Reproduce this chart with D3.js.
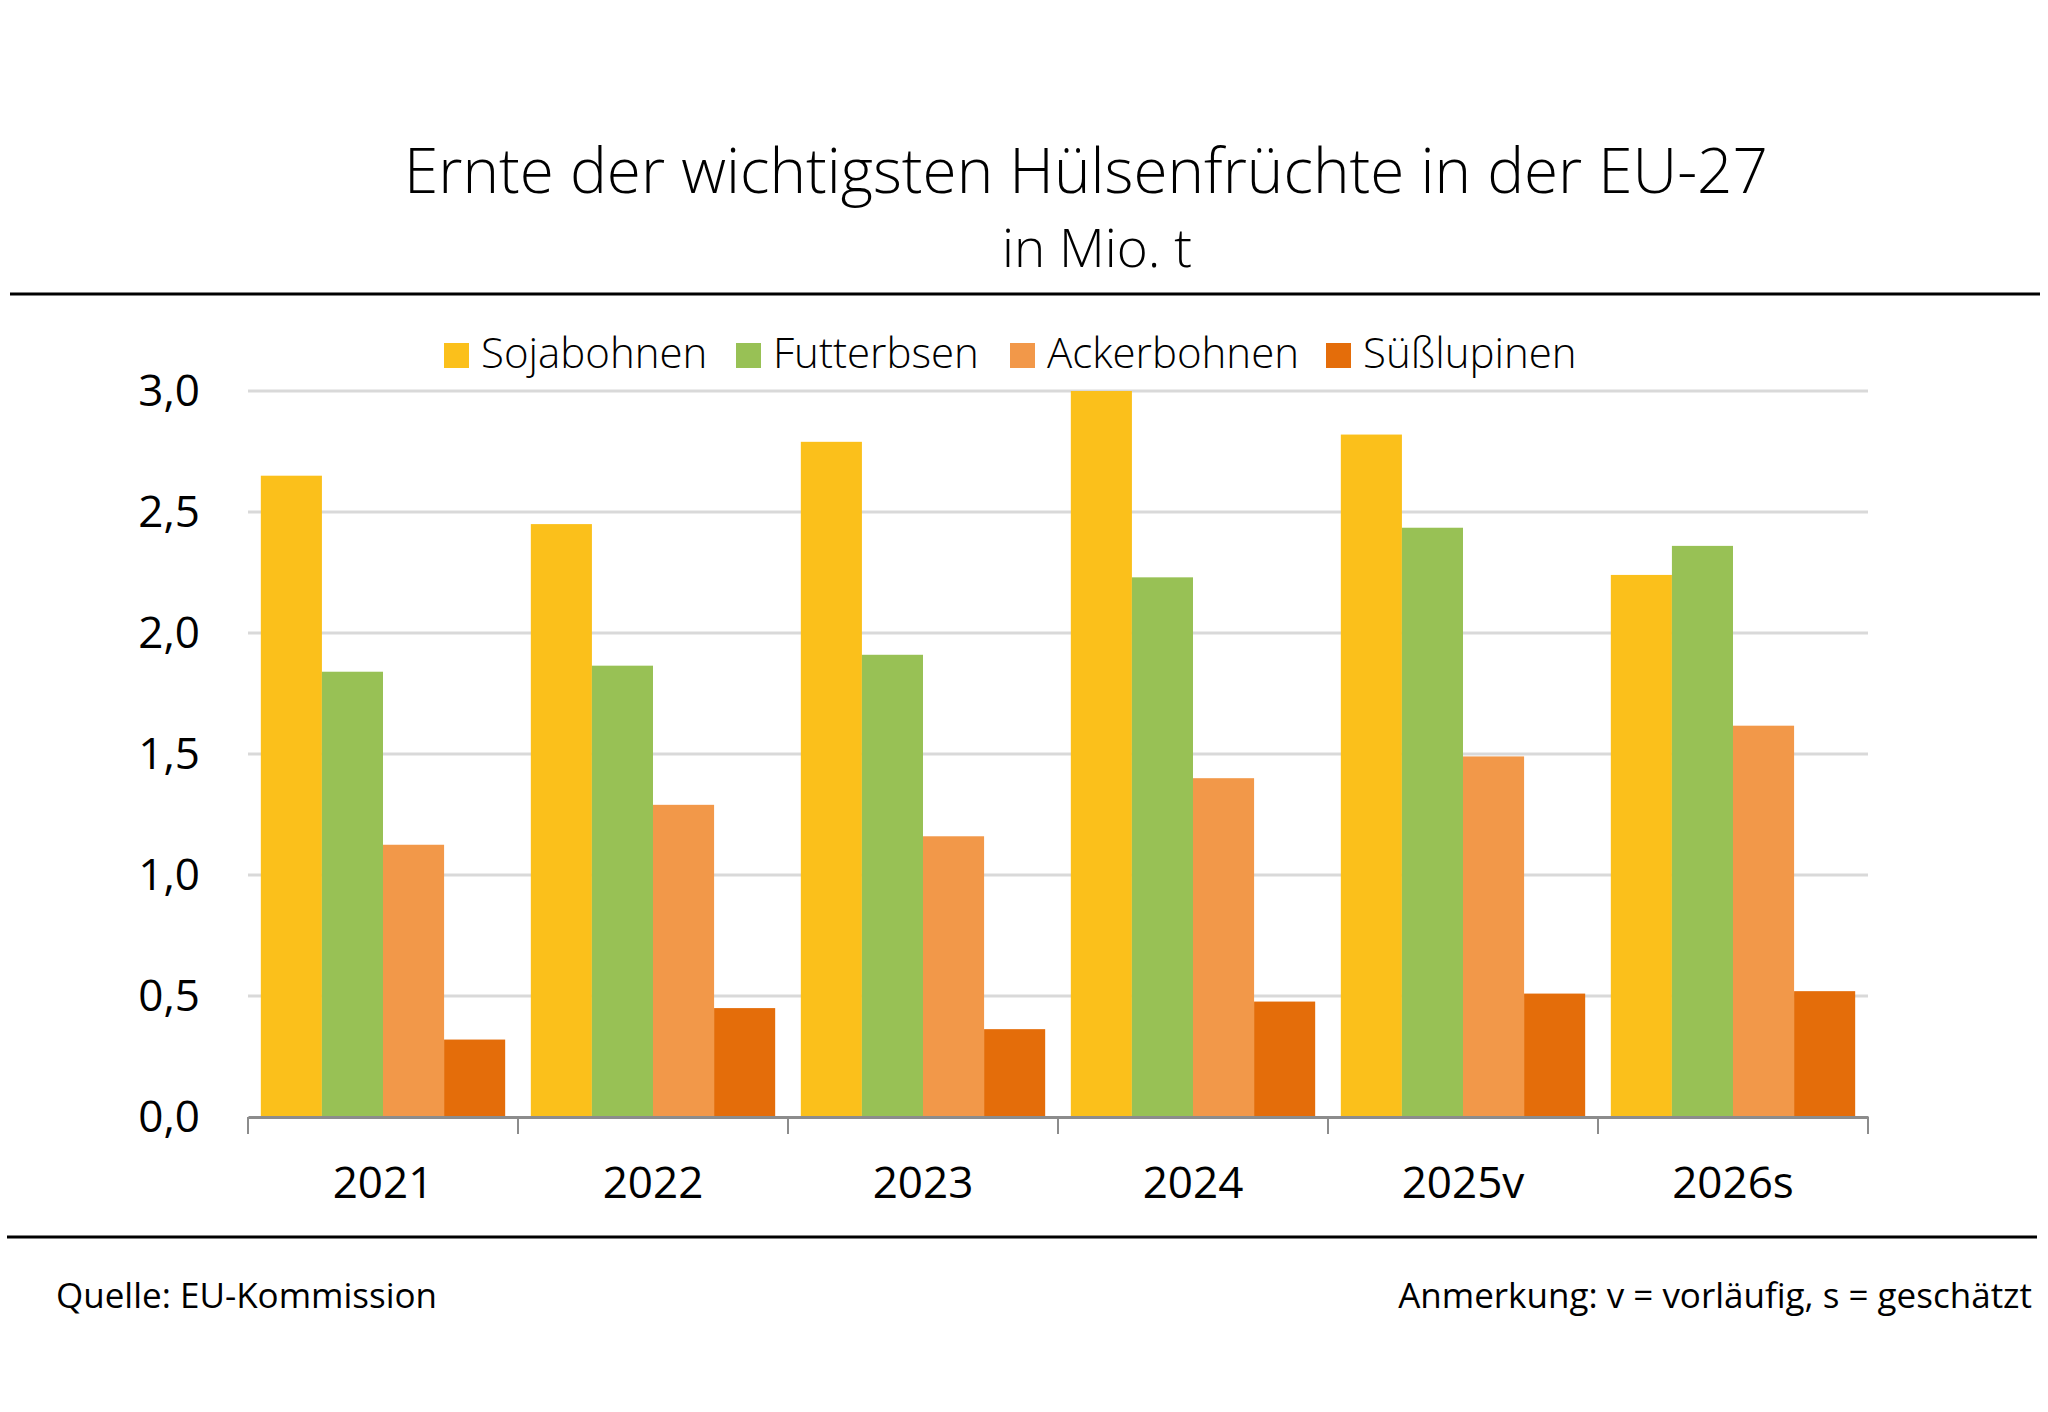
<!DOCTYPE html>
<html>
<head>
<meta charset="utf-8">
<script src="https://cdn.jsdelivr.net/npm/d3@7"></script>
<style>
  body { margin: 0; background: #fff; }
  text { font-family: "Open Sans", sans-serif; }
</style>
</head>
<body>
<script>
// Data
var years = ['2021', '2022', '2023', '2024', '2025v', '2026s'];
var seriesNames = ['Sojabohnen', 'Futterbsen', 'Ackerbohnen', 'Süßlupinen'];
var soja = [2.65, 2.45, 2.79, 3.00, 2.82, 2.24];
var futter = [1.84, 1.865, 1.91, 2.23, 2.435, 2.36];
var acker = [1.125, 1.29, 1.16, 1.40, 1.49, 1.617];
var lupinen = [0.32, 0.45, 0.363, 0.477, 0.51, 0.52];
var yTicks = [0, 0.5, 1.0, 1.5, 2.0, 2.5, 3.0];
var colors = ['#FBC01B', '#98C155', '#F29849', '#E46D0A'];

var w = 2048;
var h = 1412;

var table = years.map(function(y, i) {
	return { year: y, values: [soja[i], futter[i], acker[i], lupinen[i]] };
});

var svg = d3.select('body')
	.append('svg')
	.attr('width', w)
	.attr('height', h);

// Title
svg.append('text')
	.attr('x', 1086)
	.attr('y', 193)
	.attr('text-anchor', 'middle')
	.attr('font-size', '62px')
	.attr('font-weight', 300)
	.attr('fill', '#000')
	.text('Ernte der wichtigsten Hülsenfrüchte in der EU-27');

svg.append('text')
	.attr('x', 1097)
	.attr('y', 267)
	.attr('text-anchor', 'middle')
	.attr('font-size', '53px')
	.attr('font-weight', 300)
	.attr('fill', '#000')
	.text('in Mio. t');

// Rules
svg.append('line')
	.attr('x1', 10).attr('x2', 2040)
	.attr('y1', 294).attr('y2', 294)
	.attr('stroke', '#000').attr('stroke-width', 3);

svg.append('line')
	.attr('x1', 7).attr('x2', 2037)
	.attr('y1', 1237).attr('y2', 1237)
	.attr('stroke', '#000').attr('stroke-width', 3);

// Scales
var plotLeft = 248, plotRight = 1868, plotTop = 391, plotBottom = 1117;

var x0 = d3.scaleBand()
	.domain(years)
	.range([plotLeft, plotRight])
	.paddingInner(0.095)
	.paddingOuter(0.0475);

var x1 = d3.scaleBand()
	.domain(d3.range(seriesNames.length))
	.range([0, x0.bandwidth()]);

var y = d3.scaleLinear()
	.domain([0, 3])
	.range([plotBottom, plotTop]);

// Gridlines
svg.append('g')
	.selectAll('line')
	.data(yTicks.filter(function(d) { return d > 0; }))
	.enter()
	.append('line')
	.attr('x1', plotLeft)
	.attr('x2', plotRight)
	.attr('y1', function(d) { return y(d); })
	.attr('y2', function(d) { return y(d); })
	.attr('stroke', '#d9d9d9')
	.attr('stroke-width', 3);

// Y axis labels
var fmt = function(d) { return d3.format('.1f')(d).replace('.', ','); };
var yAxis = svg.append('g')
	.attr('transform', 'translate(' + plotLeft + ',0)')
	.call(d3.axisLeft(y).tickValues(yTicks).tickFormat(fmt).tickSize(0).tickPadding(48));
yAxis.select('.domain').remove();
yAxis.selectAll('text')
	.attr('font-size', '44px')
	.attr('fill', '#000')
	.attr('font-family', '"Open Sans", sans-serif');

// Bars
var groups = svg.append('g')
	.selectAll('g')
	.data(table)
	.enter()
	.append('g')
	.attr('transform', function(d) { return 'translate(' + x0(d.year) + ',0)'; });

groups.selectAll('rect')
	.data(function(d) { return d.values; })
	.enter()
	.append('rect')
	.attr('x', function(d, i) { return x1(i); })
	.attr('y', function(d) { return y(d); })
	.attr('width', x1.bandwidth())
	.attr('height', function(d) { return y(0) - y(d); })
	.attr('fill', function(d, i) { return colors[i]; });

// X axis
var xAxis = svg.append('g')
	.attr('transform', 'translate(0,' + plotBottom + ')')
	.call(d3.axisBottom(x0).tickSize(0).tickPadding(50));
xAxis.select('.domain')
	.attr('stroke', '#8c8c8c')
	.attr('stroke-width', 3);
xAxis.selectAll('text')
	.attr('font-size', '44px')
	.attr('fill', '#000')
	.attr('font-family', '"Open Sans", sans-serif');

// Tick marks between categories
var bounds = years.map(function(d) { return x0(d) - x0.step() * x0.paddingOuter(); });
bounds.push(plotRight);
svg.append('g')
	.selectAll('line')
	.data(bounds)
	.enter()
	.append('line')
	.attr('x1', function(d) { return d; })
	.attr('x2', function(d) { return d; })
	.attr('y1', plotBottom)
	.attr('y2', plotBottom + 17)
	.attr('stroke', '#8c8c8c')
	.attr('stroke-width', 2);

// Legend
var legendX = [444, 736, 1010, 1326];
var legend = svg.append('g')
	.selectAll('g')
	.data(seriesNames)
	.enter()
	.append('g')
	.attr('transform', function(d, i) { return 'translate(' + legendX[i] + ',343)'; });

legend.append('rect')
	.attr('width', 25)
	.attr('height', 25)
	.attr('fill', function(d, i) { return colors[i]; });

legend.append('text')
	.attr('x', 37)
	.attr('y', 25)
	.attr('font-size', '42px')
	.attr('font-weight', 300)
	.attr('fill', '#000')
	.text(function(d) { return d; });

// Footer
svg.append('text')
	.attr('x', 56)
	.attr('y', 1308)
	.attr('font-size', '35px')
	.attr('fill', '#000')
	.text('Quelle: EU-Kommission');

svg.append('text')
	.attr('x', 2032)
	.attr('y', 1308)
	.attr('text-anchor', 'end')
	.attr('font-size', '35px')
	.attr('fill', '#000')
	.text('Anmerkung: v = vorläufig, s = geschätzt');
</script>
</body>
</html>
